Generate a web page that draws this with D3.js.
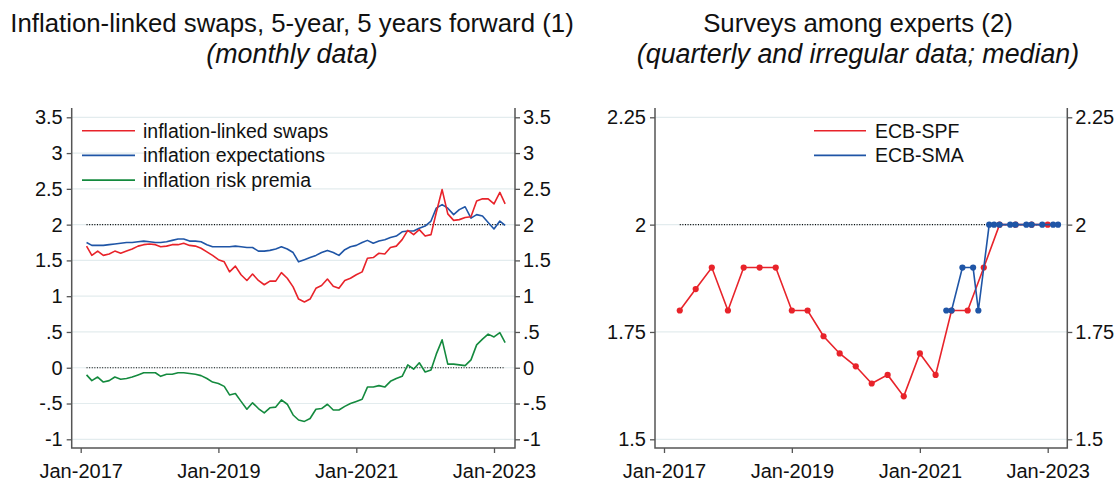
<!DOCTYPE html>
<html>
<head>
<meta charset="utf-8">
<script src="https://cdn.jsdelivr.net/npm/d3@7"></script>
<style>
  body { margin: 0; background: #fff; }
  svg text { font-family: "Liberation Sans", Arial, sans-serif; fill: #111; }
</style>
</head>
<body>
<div id="chart"></div>
<script>
// left panel: monthly, Feb-2017 .. Mar-2023
const swapStart = "2017-02";
const swaps = [1.70,1.57,1.63,1.57,1.59,1.63,1.60,1.63,1.66,1.70,1.72,1.73,1.72,1.69,1.70,1.72,1.72,1.74,1.71,1.70,
  1.67,1.62,1.57,1.51,1.48,1.34,1.42,1.30,1.22,1.31,1.22,1.16,1.21,1.21,1.33,1.25,1.13,0.96,0.92,0.96,
  1.11,1.15,1.24,1.14,1.11,1.22,1.25,1.30,1.34,1.53,1.54,1.60,1.59,1.68,1.70,1.79,1.92,1.86,1.93,1.84,
  1.86,2.17,2.49,2.15,2.06,2.07,2.10,2.11,2.33,2.36,2.36,2.29,2.45,2.29];
const expectations = [1.75,1.71,1.71,1.71,1.72,1.73,1.74,1.75,1.75,1.76,1.77,1.76,1.75,1.75,1.76,1.78,1.80,1.80,1.77,1.77,
  1.76,1.72,1.69,1.69,1.69,1.69,1.70,1.69,1.68,1.68,1.63,1.63,1.64,1.66,1.69,1.66,1.61,1.48,1.51,1.54,
  1.57,1.61,1.64,1.61,1.57,1.65,1.69,1.71,1.75,1.78,1.74,1.77,1.79,1.82,1.84,1.90,1.91,1.91,1.95,1.98,
  2.05,2.23,2.28,2.23,2.14,2.21,2.25,2.09,2.14,2.12,2.03,1.94,2.05,1.99];
const riskPremia = [-0.10,-0.18,-0.13,-0.20,-0.18,-0.13,-0.16,-0.15,-0.13,-0.10,-0.07,-0.07,-0.07,-0.12,-0.09,-0.09,-0.07,-0.07,-0.08,-0.09,
  -0.11,-0.15,-0.20,-0.22,-0.26,-0.38,-0.36,-0.47,-0.58,-0.49,-0.57,-0.63,-0.56,-0.55,-0.45,-0.51,-0.66,-0.73,-0.75,-0.71,
  -0.58,-0.57,-0.51,-0.59,-0.59,-0.54,-0.50,-0.47,-0.44,-0.27,-0.27,-0.25,-0.27,-0.19,-0.15,-0.12,0.04,-0.02,0.07,-0.06,
  -0.03,0.19,0.39,0.05,0.05,0.04,0.03,0.11,0.32,0.40,0.47,0.43,0.49,0.35];
const leftTicks = [-1,-0.5,0,0.5,1,1.5,2,2.5,3,3.5];
const leftLabels = ["-1","-.5","0",".5","1","1.5","2","2.5","3","3.5"];

// right panel: surveys
const spfDates = ["2017-04","2017-07","2017-10","2018-01","2018-04","2018-07","2018-10","2019-01","2019-04","2019-07",
  "2019-10","2020-01","2020-04","2020-07","2020-10","2021-01","2021-04","2021-07","2021-10","2022-01",
  "2022-04","2022-07","2022-10","2023-01"];
const spf = [1.80,1.85,1.90,1.80,1.90,1.90,1.90,1.80,1.80,1.74,1.70,1.67,1.63,1.65,1.60,1.70,1.65,1.80,1.80,1.90,
  2.00,2.00,2.00,2.00];
const smaDates = ["2021-06","2021-07","2021-09","2021-11","2021-12","2022-02","2022-03","2022-04","2022-06","2022-07",
  "2022-09","2022-10","2022-12","2023-02","2023-03"];
const sma = [1.80,1.80,1.90,1.90,1.80,2.00,2.00,2.00,2.00,2.00,2.00,2.00,2.00,2.00,2.00];
const rightTicks = [1.5,1.75,2,2.25];
const rightLabels = ["1.5","1.75","2","2.25"];

const xTicks = ["2017-01","2019-01","2021-01","2023-01"];

const RED = "#e8232a", BLUE = "#1f55a6", GREEN = "#148a3e";
const parse = d3.timeParse("%Y-%m");
const fmt = d3.timeFormat("%b-%Y");

const svg = d3.select("#chart").append("svg").attr("width", 1115).attr("height", 482);

function panel(o) {
  const g = svg.append("g");
  const x = d3.scaleTime().domain([parse("2017-01"), parse("2023-01")]).range([o.x0, o.x1]);
  const y = d3.scaleLinear().domain(o.yDomain).range([439.3, 117.3]);

  // gridlines
  g.selectAll(".grid").data(o.ticks).join("line")
    .attr("x1", o.left).attr("x2", o.right)
    .attr("y1", d => y(d)).attr("y2", d => y(d))
    .attr("stroke", "#e3ecee").attr("stroke-width", 1.2);

  // dotted reference lines
  o.refs.forEach(r => {
    g.append("line")
      .attr("x1", x(r.from)).attr("x2", x(r.to))
      .attr("y1", y(r.v)).attr("y2", y(r.v))
      .attr("stroke", "#000").attr("stroke-width", 1.1).attr("stroke-dasharray", "1,1.6");
  });

  const lab = d3.scaleOrdinal().domain(o.ticks).range(o.labels);
  const axL = g.append("g").attr("transform", `translate(${o.left},0)`)
    .call(d3.axisLeft(y).tickValues(o.ticks).tickSize(5).tickPadding(4).tickFormat(lab));
  const axR = g.append("g").attr("transform", `translate(${o.right},0)`)
    .call(d3.axisRight(y).tickValues(o.ticks).tickSize(5).tickPadding(3).tickFormat(lab));
  const axB = g.append("g").attr("transform", `translate(0,448)`)
    .call(d3.axisBottom(x).tickValues(xTicks.map(parse)).tickSize(5).tickPadding(11).tickFormat(fmt));
  [axL, axR, axB].forEach(a => {
    a.select(".domain").remove();
    a.selectAll("line").attr("stroke", "#555").attr("stroke-width", 1.3);
    a.selectAll("text").style("font-size", "20px").attr("fill", "#111");
  });
  g.append("path")
    .attr("d", `M${o.left},108V448H${o.right}V108`)
    .attr("fill", "none").attr("stroke", "#555").attr("stroke-width", 1.5);

  return { g, x, y };
}

// ---- left panel
const L = panel({ x0: 80.7, x1: 494, left: 71.7, right: 515, yDomain: [-1, 3.5],
  ticks: leftTicks, labels: leftLabels,
  refs: [{ v: 2, from: parse("2017-02"), to: parse("2023-03") }, { v: 0, from: parse("2017-02"), to: parse("2023-03") }] });

const months = d3.timeMonth.range(parse(swapStart), d3.timeMonth.offset(parse(swapStart), swaps.length));
const lineL = d3.line().x((d, i) => L.x(months[i])).y(d => L.y(d));
[[riskPremia, GREEN], [expectations, BLUE], [swaps, RED]].forEach(([s, c]) => {
  L.g.append("path").datum(s).attr("d", lineL)
    .attr("fill", "none").attr("stroke", c).attr("stroke-width", 1.6).attr("stroke-linejoin", "round");
});

const legL = [["inflation-linked swaps", RED], ["inflation expectations", BLUE], ["inflation risk premia", GREEN]];
legL.forEach(([t, c], i) => {
  const yy = 130.7 + i * 24.7;
  L.g.append("line").attr("x1", 82).attr("x2", 135).attr("y1", yy).attr("y2", yy)
    .attr("stroke", c).attr("stroke-width", 1.6);
  L.g.append("text").attr("x", 143).attr("y", yy).attr("dy", "0.35em")
    .style("font-size", "19.5px").text(t);
});

// ---- right panel
const R = panel({ x0: 664, x1: 1047.7, left: 655, right: 1067.3, yDomain: [1.5, 2.25],
  ticks: rightTicks, labels: rightLabels,
  refs: [{ v: 2, from: parse("2017-04"), to: parse("2023-03") }] });

[[spfDates, spf, RED], [smaDates, sma, BLUE]].forEach(([ds, vs, c]) => {
  const pts = vs.map((v, i) => [parse(ds[i]), v]);
  R.g.append("path").datum(pts)
    .attr("d", d3.line().x(d => R.x(d[0])).y(d => R.y(d[1])))
    .attr("fill", "none").attr("stroke", c).attr("stroke-width", 1.6);
  R.g.selectAll(null).data(pts).join("circle")
    .attr("cx", d => R.x(d[0])).attr("cy", d => R.y(d[1])).attr("r", 3.1).attr("fill", c);
});

const legR = [["ECB-SPF", RED], ["ECB-SMA", BLUE]];
legR.forEach(([t, c], i) => {
  const yy = 130.7 + i * 24.7;
  R.g.append("line").attr("x1", 814).attr("x2", 866).attr("y1", yy).attr("y2", yy)
    .attr("stroke", c).attr("stroke-width", 1.6);
  R.g.append("text").attr("x", 875).attr("y", yy).attr("dy", "0.35em")
    .style("font-size", "19.5px").text(t);
});

// ---- titles
const titles = [
  [292, "Inflation-linked swaps, 5-year, 5 years forward (1)", "(monthly data)"],
  [858, "Surveys among experts (2)", "(quarterly and irregular data; median)"]
];
titles.forEach(([cx, t1, t2]) => {
  svg.append("text").attr("x", cx).attr("y", 32).attr("text-anchor", "middle")
    .style("font-size", "25.8px").text(t1);
  svg.append("text").attr("x", cx).attr("y", 63).attr("text-anchor", "middle")
    .style("font-size", "26.8px").style("font-style", "italic").text(t2);
});
</script>
</body>
</html>
